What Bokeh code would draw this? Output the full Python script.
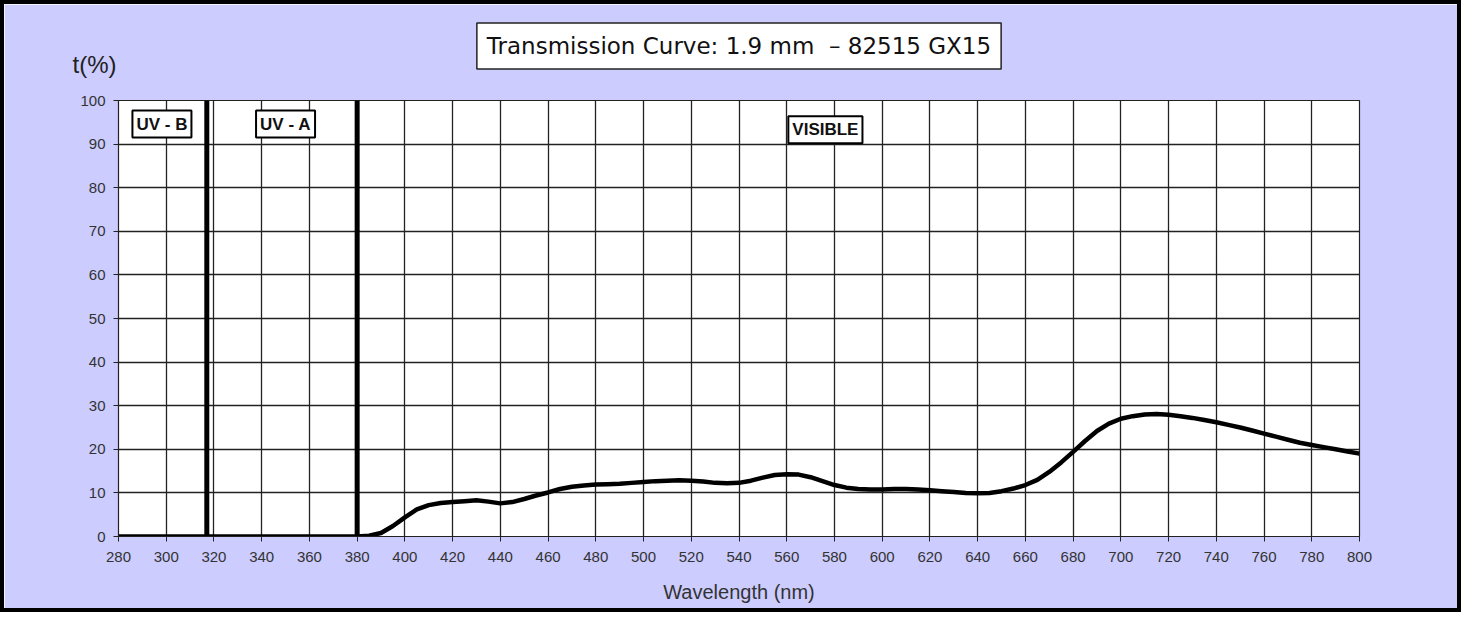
from bokeh.plotting import figure
from bokeh.models import Range1d, FixedTicker, Label, Title, ColumnDataSource
from bokeh.embed import file_html
from bokeh.resources import INLINE

# ---- data ----
wavelength = [280, 300, 320, 340, 360, 380, 385, 390, 395, 400, 405, 410, 415, 420, 425,
              430, 435, 440, 445, 450, 455, 460, 465, 470, 475, 480, 485, 490, 495, 500,
              505, 510, 515, 520, 525, 530, 535, 540, 545, 550, 555, 560, 565, 570, 575,
              580, 585, 590, 595, 600, 605, 610, 615, 620, 625, 630, 635, 640, 645, 650,
              655, 660, 665, 670, 675, 680, 685, 690, 695, 700, 705, 710, 715, 720, 725,
              730, 735, 740, 745, 750, 755, 760, 765, 770, 775, 780, 785, 790, 795, 800]
transmission = [0, 0, 0, 0, 0, 0, 0.2, 0.8, 2.4, 4.4, 6.2, 7.2, 7.7, 7.9, 8.1,
                8.3, 8.0, 7.6, 7.9, 8.6, 9.4, 10.1, 10.9, 11.4, 11.7, 11.9, 12.0, 12.1, 12.3, 12.5,
                12.7, 12.8, 12.9, 12.8, 12.6, 12.3, 12.2, 12.3, 12.8, 13.5, 14.1, 14.3, 14.2, 13.6, 12.7,
                11.8, 11.2, 10.9, 10.8, 10.8, 10.9, 10.9, 10.8, 10.6, 10.4, 10.2, 10.0, 9.9, 10.0, 10.4,
                11.0, 11.8, 13.0, 14.8, 17.0, 19.4, 21.9, 24.2, 25.9, 27.0, 27.6, 28.0, 28.1, 27.9, 27.6,
                27.2, 26.7, 26.2, 25.6, 25.0, 24.3, 23.6, 22.9, 22.2, 21.5, 21.0, 20.5, 20.0, 19.5, 19.0]

band_bounds = [317, 380]
band_names = ["UV - B", "UV - A", "VISIBLE"]
band_label_x = [298.2, 350, 576.2]
band_label_y = [94.6, 94.6, 93.3]

x_ticks = list(range(280, 801, 20))
y_ticks = list(range(0, 101, 10))

title_text = "Transmission Curve: 1.9 mm\u00a0\u00a0\u2013 82515 GX15"
x_title = "Wavelength (nm)"
y_title = "t(%)"

# ---- figure ----
p = figure(width=1461, height=612, output_backend="svg", toolbar_location=None,
           title=None,
           x_range=Range1d(280, 800), y_range=Range1d(0, 100),
           min_border_left=114, min_border_right=106, min_border_top=96, min_border_bottom=80)

p.styles = {"border": "4px solid black"}

p.border_fill_color = "#CCCCFF"
p.background_fill_color = "white"
p.outline_line_color = "#222222"
p.outline_line_width = 1.2

for ax in (p.xaxis[0], p.yaxis[0]):
    ax.axis_line_color = "#222222"
    ax.major_tick_line_color = "#222222"
    ax.major_tick_out = 5
    ax.major_tick_in = 0
    ax.minor_tick_line_color = None
    ax.major_label_text_font = "Liberation Sans"
    ax.major_label_text_font_size = "15px"
    ax.major_label_text_color = "#333333"

p.xaxis.ticker = FixedTicker(ticks=x_ticks)
p.yaxis.ticker = FixedTicker(ticks=y_ticks)
p.xaxis.major_label_standoff = 10
p.yaxis.major_label_standoff = 8
p.xaxis.axis_label = x_title
p.xaxis.axis_label_text_font = "Liberation Sans"
p.xaxis.axis_label_text_font_style = "normal"
p.xaxis.axis_label_text_font_size = "20px"
p.xaxis.axis_label_text_color = "#333333"
p.xaxis.axis_label_standoff = 16

p.xgrid.ticker = FixedTicker(ticks=x_ticks)
p.ygrid.ticker = FixedTicker(ticks=y_ticks)
for g in (p.xgrid[0], p.ygrid[0]):
    g.grid_line_color = "#222222"
    g.grid_line_width = 1.3
    g.grid_line_alpha = 1.0

# band boundary lines
p.segment(x0=band_bounds, y0=[0] * len(band_bounds), x1=band_bounds, y1=[100] * len(band_bounds),
          line_color="black", line_width=5)

# curve
src = ColumnDataSource(dict(x=wavelength, y=transmission))
p.line("x", "y", source=src, line_color="black", line_width=4.5, line_join="round")

# band labels
for name, lx, ly in zip(band_names, band_label_x, band_label_y):
    p.add_layout(Label(x=lx, y=ly, text=name, text_align="center", text_baseline="middle",
                       text_font="Liberation Sans", text_font_style="bold", text_font_size="17px",
                       text_color="#111111", background_fill_color="white",
                       border_line_color="black", border_line_width=2, padding=4))

# y title (closest to frame)
p.add_layout(Title(text=y_title, align="left", offset=-46, standoff=46,
                   text_font="Liberation Sans", text_font_style="normal",
                   text_font_size="24px", text_color="#222222"), "above")

# main title box
p.add_layout(Title(text=title_text, align="center", standoff=-87,
                   text_font="DejaVu Sans", text_font_style="normal", text_font_size="23px",
                   text_color="#111111", background_fill_color="white",
                   border_line_color="#222222", border_line_width=1.5, padding=10), "above")

open("out.html", "w").write(file_html(p, INLINE))
